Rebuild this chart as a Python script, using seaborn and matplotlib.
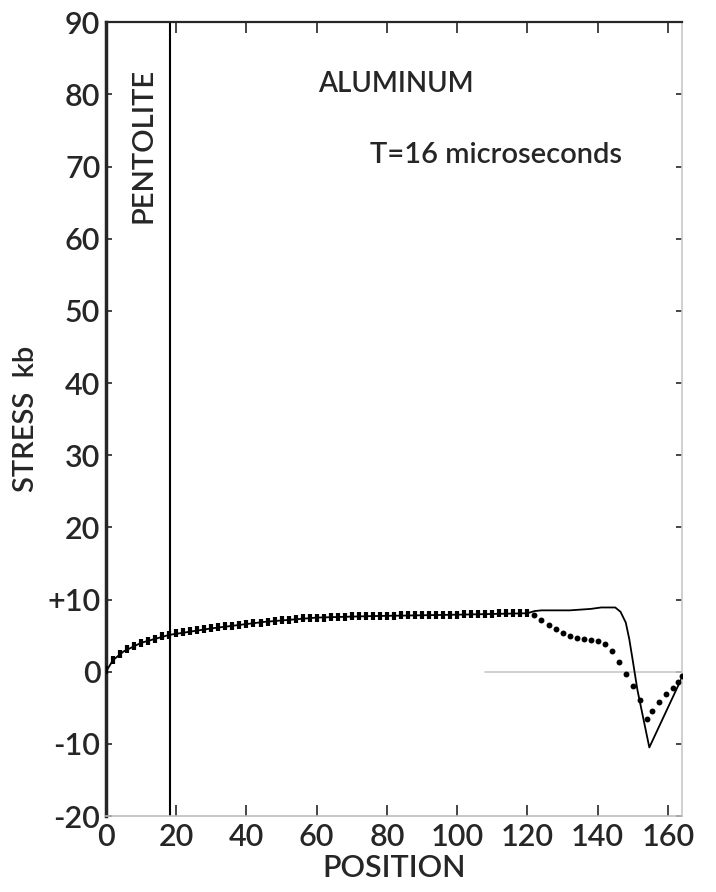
import matplotlib
matplotlib.use("Agg")
import matplotlib.pyplot as plt
import seaborn as sns
import pandas as pd

# ---- data ----
dot_pos = [0, 2, 4, 6, 8, 10, 12, 14, 16, 18, 20, 22, 24, 26, 28, 30, 32, 34, 36, 38,
           40, 42, 44, 46, 48, 50, 52, 54, 56, 58, 60, 62, 64, 66, 68, 70, 72, 74, 76, 78,
           80, 82, 84, 86, 88, 90, 92, 94, 96, 98, 100, 102, 104, 106, 108, 110, 112, 114,
           116, 118, 120]
dot_val = [0.2, 1.6, 2.5, 3.1, 3.6, 4.0, 4.3, 4.6, 4.9, 5.1, 5.3, 5.5, 5.6, 5.8, 5.9,
           6.0, 6.2, 6.3, 6.4, 6.5, 6.6, 6.7, 6.8, 6.9, 7.0, 7.1, 7.2, 7.3, 7.4, 7.4,
           7.5, 7.5, 7.6, 7.6, 7.6, 7.7, 7.7, 7.7, 7.7, 7.7, 7.7, 7.7, 7.8, 7.8, 7.8,
           7.8, 7.8, 7.9, 7.9, 7.9, 7.9, 8.0, 8.0, 8.0, 8.0, 8.0, 8.1, 8.1, 8.1, 8.1, 8.1]
tail_pos = [122, 124, 126, 128, 130, 132, 134, 136, 138, 140, 142, 144, 146, 148, 150,
            152, 154, 155.5, 157.5, 159.5, 161.5, 163, 164]
tail_val = [7.8, 7.2, 6.5, 5.9, 5.4, 5.0, 4.7, 4.5, 4.4, 4.3, 3.9, 2.9, 1.3, -0.3, -2.0,
            -3.9, -6.5, -5.4, -4.2, -3.1, -2.2, -1.4, -0.6]

line_pos = [0, 2, 5, 10, 18, 30, 45, 60, 75, 100, 120, 122, 124, 132, 138, 141, 145,
            146.5, 148, 149, 150, 151.3, 153, 154.7, 164]
line_val = [0.0, 1.6, 2.8, 4.0, 5.1, 6.0, 6.9, 7.5, 7.7, 7.9, 8.1, 8.4, 8.5, 8.5, 8.7,
            8.9, 8.9, 8.3, 6.8, 4.5, 1.5, -2.5, -6.5, -10.5, -0.8]

xticks = [0, 20, 40, 60, 80, 100, 120, 140, 160]
xticklabels = ["0", "20", "40", "60", "80", "100", "120", "140", "160"]
yticks = [-20, -10, 0, 10, 20, 30, 40, 50, 60, 70, 80, 90]
yticklabels = ["-20", "-10", "0", "+10", "20", "30", "40", "50", "60", "70", "80", "90"]
pentolite_x = 18.2

df_dot = pd.DataFrame({"pos": dot_pos, "val": dot_val})
df_tail = pd.DataFrame({"pos": tail_pos, "val": tail_val})
df_line = pd.DataFrame({"pos": line_pos, "val": line_val})

sns.set_style("ticks")
plt.rcParams["font.family"] = ["Lato", "DejaVu Sans"]
plt.rcParams["font.weight"] = "semibold"
plt.rcParams["axes.labelweight"] = "semibold"

fig = plt.figure(figsize=(7.16, 8.92), dpi=100)
ax = fig.add_axes([0.148, 0.0852, 0.8045, 0.8898])

# faint zero line near the right
ax.plot([108, 164], [0, 0], color="#c8c8c8", lw=1.2, zorder=1)

sns.lineplot(data=df_line, x="pos", y="val", ax=ax, color="black", lw=1.3,
             sort=False, estimator=None, zorder=2)
sns.scatterplot(data=df_dot, x="pos", y="val", ax=ax, color="black", marker="|",
                s=40, linewidth=3, zorder=3)
sns.scatterplot(data=df_tail, x="pos", y="val", ax=ax, color="black", marker="o",
                s=18, linewidth=0, zorder=3)

ax.axvline(pentolite_x, color="black", lw=1.5, zorder=2)

ax.set_xlim(0, 164)
ax.set_ylim(-20, 90)
ax.set_xticks(xticks)
ax.set_xticklabels(xticklabels)
ax.set_yticks(yticks)
ax.set_yticklabels(yticklabels)

ax.tick_params(axis="both", direction="in", length=8, width=1.2, labelsize=22,
               top=True, right=True, pad=4)
ax.tick_params(axis="x", pad=5)
ax.tick_params(axis="y", length=4)

ax.spines["left"].set_linewidth(2.5)
ax.spines["top"].set_linewidth(1.6)
ax.spines["bottom"].set_color("#bdbdbd")
ax.spines["bottom"].set_linewidth(1.2)
ax.spines["right"].set_color("#c8c8c8")
ax.spines["right"].set_linewidth(1.2)

ax.set_xlabel("POSITION", fontsize=22, labelpad=2)
ax.set_ylabel("STRESS  kb", fontsize=21, labelpad=6)

ax.text(10.8, 73, "PENTOLITE", rotation=90, ha="center", va="center", fontsize=21)
ax.text(60.4, 81.5, "ALUMINUM", ha="left", va="center", fontsize=20)
ax.text(75.2, 71.6, "T=16 microseconds", ha="left", va="center", fontsize=21)

fig.savefig("out.png", dpi=100)
